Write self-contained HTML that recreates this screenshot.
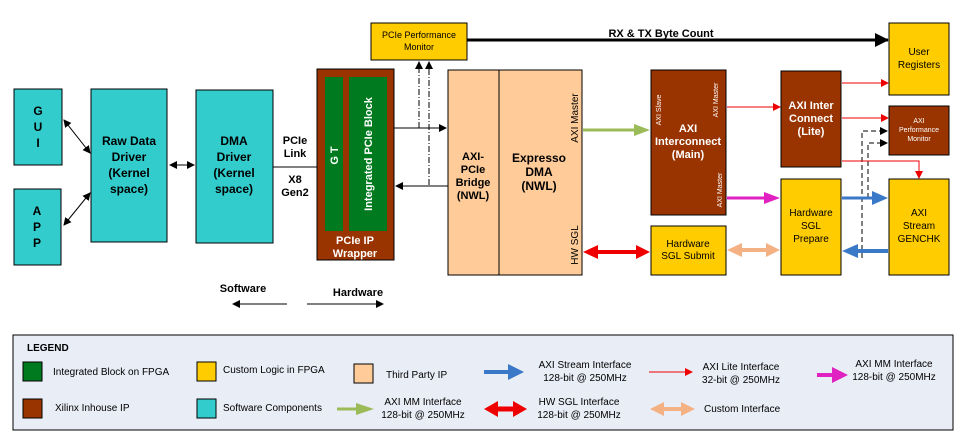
<!DOCTYPE html>
<html><head><meta charset="utf-8"><style>body{margin:0;background:#fff}svg{display:block}text{font-family:"Liberation Sans",Arial,sans-serif}</style></head><body>
<svg width="960" height="448" viewBox="0 0 960 448" xmlns="http://www.w3.org/2000/svg">
<defs>
<marker id="ab" markerWidth="8" markerHeight="8" refX="7" refY="4" orient="auto" markerUnits="userSpaceOnUse"><path d="M0,0 L8,4 L0,8 z" fill="#000"/></marker>
<marker id="abs" markerWidth="8" markerHeight="8" refX="1" refY="4" orient="auto" markerUnits="userSpaceOnUse"><path d="M8,0 L0,4 L8,8 z" fill="#000"/></marker>
<marker id="ar" markerWidth="8" markerHeight="8" refX="7" refY="4" orient="auto" markerUnits="userSpaceOnUse"><path d="M0,0 L8,4 L0,8 z" fill="#e00"/></marker>
<marker id="abig" markerWidth="14" markerHeight="14" refX="13" refY="7" orient="auto" markerUnits="userSpaceOnUse"><path d="M0,0 L14,7 L0,14 z" fill="#000"/></marker>
</defs>
<g stroke="#000" stroke-width="1">
<rect x="14" y="89" width="48" height="76" fill="#33CCCC"/>
<rect x="14" y="189" width="47" height="76" fill="#33CCCC"/>
<rect x="91" y="89" width="76" height="153" fill="#33CCCC"/>
<rect x="196" y="90" width="77" height="153" fill="#33CCCC"/>
<rect x="317" y="69" width="77" height="191" fill="#993300"/>
<rect x="371" y="23" width="96" height="37" fill="#FFCC00"/>
<rect x="448" y="70" width="134" height="205" fill="#FFCC99"/>
<line x1="499" y1="70" x2="499" y2="275"/>
<rect x="651" y="70" width="75" height="145" fill="#993300"/>
<rect x="781" y="71" width="60" height="96" fill="#993300"/>
<rect x="889" y="23" width="60" height="72" fill="#FFCC00"/>
<rect x="889" y="106" width="60" height="49" fill="#993300"/>
<rect x="889" y="179" width="60" height="96" fill="#FFCC00"/>
<rect x="781" y="179" width="60" height="96" fill="#FFCC00"/>
<rect x="651" y="226" width="75" height="49" fill="#FFCC00"/>
</g>
<rect x="325" y="77" width="18" height="154" fill="#007A1F"/>
<rect x="349" y="77" width="38" height="154" fill="#007A1F"/>
<g font-weight="bold" font-size="12" text-anchor="middle" fill="#000">
<text x="38" y="115">G</text><text x="38" y="131">U</text><text x="38" y="147">I</text>
<text x="37" y="215">A</text><text x="37" y="231">P</text><text x="37" y="247">P</text>
<text x="129" y="145">Raw Data</text><text x="129" y="161">Driver</text><text x="129" y="177">(Kernel</text><text x="129" y="193">space)</text>
<text x="234" y="145">DMA</text><text x="234" y="161">Driver</text><text x="234" y="177">(Kernel</text><text x="234" y="193">space)</text>
</g>
<g font-weight="bold" font-size="11" text-anchor="middle">
<text x="295" y="144">PCIe</text><text x="295" y="157">Link</text>
<text x="295" y="183">X8</text><text x="295" y="196">Gen2</text>
<text x="355" y="244" fill="#fff">PCIe IP</text><text x="355" y="257" fill="#fff">Wrapper</text>
<text x="473" y="160">AXI-</text><text x="473" y="173">PCIe</text><text x="473" y="186">Bridge</text><text x="473" y="199">(NWL)</text>
<text x="539" y="162" font-size="12">Expresso</text><text x="539" y="176" font-size="12">DMA</text><text x="539" y="190" font-size="12">(NWL)</text>
<text x="688" y="132" fill="#fff">AXI</text><text x="688" y="145" fill="#fff">Interconnect</text><text x="688" y="158" fill="#fff">(Main)</text>
<text x="811" y="109" fill="#fff">AXI Inter</text><text x="811" y="122" fill="#fff">Connect</text><text x="811" y="135" fill="#fff">(Lite)</text>
<text x="661" y="37">RX &amp; TX Byte Count</text>
<text x="243" y="292">Software</text>
<text x="358" y="296">Hardware</text>
</g>
<text transform="translate(338,154) rotate(-90)" text-anchor="middle" font-weight="bold" font-size="11" fill="#fff" letter-spacing="3">GT</text>
<text transform="translate(372,154) rotate(-90)" text-anchor="middle" font-weight="bold" font-size="11" fill="#fff">Integrated PCIe Block</text>
<g font-size="10" text-anchor="middle" fill="#000">
<text x="419" y="38" font-size="9">PCIe Performance</text><text x="419" y="50" font-size="9">Monitor</text>
<text x="919" y="55">User</text><text x="919" y="68">Registers</text>
<text x="919" y="123" fill="#fff" font-size="7">AXI</text><text x="919" y="132" fill="#fff" font-size="7">Performance</text><text x="919" y="141" fill="#fff" font-size="7">Monitor</text>
<text x="919" y="216">AXI</text><text x="919" y="229">Stream</text><text x="919" y="242">GENCHK</text>
<text x="811" y="216">Hardware</text><text x="811" y="229">SGL</text><text x="811" y="242">Prepare</text>
<text x="688" y="247">Hardware</text><text x="688" y="259">SGL Submit</text>
</g>
<g font-size="10" text-anchor="middle">
<text transform="translate(578,118) rotate(-90)">AXI Master</text>
<text transform="translate(578,245) rotate(-90)">HW SGL</text>
<text transform="translate(661,110) rotate(-90)" fill="#fff" font-size="7">AXI Slave</text>
<text transform="translate(718,100) rotate(-90)" fill="#fff" font-size="7">AXI Master</text>
<text transform="translate(722,190) rotate(-90)" fill="#fff" font-size="7">AXI Master</text>
</g>
<g stroke="#000" stroke-width="1" fill="none">
<line x1="64" y1="120" x2="90" y2="153" marker-start="url(#abs)" marker-end="url(#ab)"/>
<line x1="64" y1="225" x2="90" y2="193" marker-start="url(#abs)" marker-end="url(#ab)"/>
<line x1="170" y1="165" x2="194" y2="165" marker-start="url(#abs)" marker-end="url(#ab)"/>
<line x1="273" y1="167" x2="317" y2="167"/>
<line x1="394" y1="128" x2="446" y2="128" marker-end="url(#ab)"/>
<line x1="448" y1="186" x2="396" y2="186" marker-end="url(#ab)"/>
<line x1="419" y1="128" x2="419" y2="62" stroke-dasharray="6,2,1,2" marker-end="url(#ab)"/>
<line x1="429" y1="185" x2="429" y2="62" stroke-dasharray="6,2,1,2" marker-end="url(#ab)"/>
<line x1="287" y1="304" x2="233" y2="304" marker-end="url(#ab)"/>
<line x1="307" y1="304" x2="383" y2="304" marker-end="url(#ab)"/>
<path d="M862 258 V131 H887" stroke-dasharray="5,3" marker-end="url(#ab)"/>
<path d="M868 198 V143 H887" stroke-dasharray="5,3" marker-end="url(#ab)"/>
</g>
<line x1="467" y1="40" x2="888" y2="40" stroke="#000" stroke-width="3" marker-end="url(#abig)"/>
<g stroke="#e00" stroke-width="1" fill="none">
<line x1="727" y1="107" x2="780" y2="107" marker-end="url(#ar)"/>
<line x1="842" y1="83" x2="888" y2="83" marker-end="url(#ar)"/>
<line x1="842" y1="118" x2="888" y2="118" marker-end="url(#ar)"/>
<path d="M842 161 H919 V178" marker-end="url(#ar)"/>
</g>
<line x1="583" y1="130" x2="636" y2="130" stroke="#9BBB59" stroke-width="3"/><path d="M634 124 L650 130 L634 136z" fill="#9BBB59"/>
<line x1="727" y1="198" x2="766" y2="198" stroke="#E020C0" stroke-width="3"/><path d="M764 192 L780 198 L764 204z" fill="#E020C0"/>
<line x1="595" y1="252" x2="638" y2="252" stroke="#e00" stroke-width="4"/><path d="M598 245 L583 252 L598 259z M636 245 L650 252 L636 259z" fill="#e00"/>
<line x1="740" y1="250" x2="768" y2="250" stroke="#F4B183" stroke-width="4"/><path d="M742 243 L727 250 L742 257z M766 243 L780 250 L766 257z" fill="#F4B183"/>
<line x1="842" y1="198" x2="874" y2="198" stroke="#3A78C8" stroke-width="3"/><path d="M872 191 L888 198 L872 205z" fill="#3A78C8"/>
<line x1="888" y1="251" x2="856" y2="251" stroke="#3A78C8" stroke-width="4"/><path d="M858 244 L842 251 L858 258z" fill="#3A78C8"/>
<!-- legend -->
<rect x="13" y="335" width="940" height="95" fill="#E9EDF6" stroke="#000"/>
<text x="27" y="351" font-size="10" font-weight="bold">LEGEND</text>
<g stroke="#000" stroke-width="1">
<rect x="23" y="362" width="19" height="19" fill="#007A1F"/>
<rect x="23" y="399" width="19" height="19" fill="#993300"/>
<rect x="197" y="362" width="19" height="19" fill="#FFCC00"/>
<rect x="197" y="399" width="19" height="19" fill="#33CCCC"/>
<rect x="354" y="364" width="19" height="19" fill="#FFCC99"/>
</g>
<g font-size="10">
<text x="53" y="375">Integrated Block on FPGA</text>
<text x="55" y="411">Xilinx Inhouse IP</text>
<text x="223" y="373">Custom Logic in FPGA</text>
<text x="223" y="411">Software Components</text>
<text x="386" y="378">Third Party IP</text>
<text x="704" y="412">Custom  Interface</text>
</g>
<g font-size="10" text-anchor="middle">
<text x="585" y="368">AXI Stream Interface</text><text x="585" y="381">128-bit @ 250MHz</text>
<text x="741" y="370">AXI Lite Interface</text><text x="741" y="383">32-bit @ 250MHz</text>
<text x="894" y="367">AXI MM Interface</text><text x="894" y="380">128-bit @ 250MHz</text>
<text x="423" y="405">AXI MM Interface</text><text x="423" y="418">128-bit @ 250MHz</text>
<text x="579" y="405">HW SGL Interface</text><text x="579" y="418">128-bit @ 250MHz</text>
</g>
<line x1="484" y1="372" x2="510" y2="372" stroke="#3A78C8" stroke-width="4"/><path d="M508 364 L524 372 L508 380z" fill="#3A78C8"/>
<line x1="649" y1="372" x2="692" y2="372" stroke="#e00" stroke-width="1" marker-end="url(#ar)"/>
<line x1="817" y1="375" x2="834" y2="375" stroke="#E020C0" stroke-width="4"/><path d="M832 367 L848 375 L832 383z" fill="#E020C0"/>
<line x1="337" y1="409" x2="358" y2="409" stroke="#9BBB59" stroke-width="3"/><path d="M356 403 L374 409 L356 415z" fill="#9BBB59"/>
<line x1="496" y1="409" x2="515" y2="409" stroke="#e00" stroke-width="5"/><path d="M498 401 L484 409 L498 417z M513 401 L527 409 L513 417z" fill="#e00"/>
<line x1="662" y1="409" x2="683" y2="409" stroke="#F4B183" stroke-width="4"/><path d="M664 402 L650 409 L664 416z M681 402 L695 409 L681 416z" fill="#F4B183"/>
</svg>
</body></html>
